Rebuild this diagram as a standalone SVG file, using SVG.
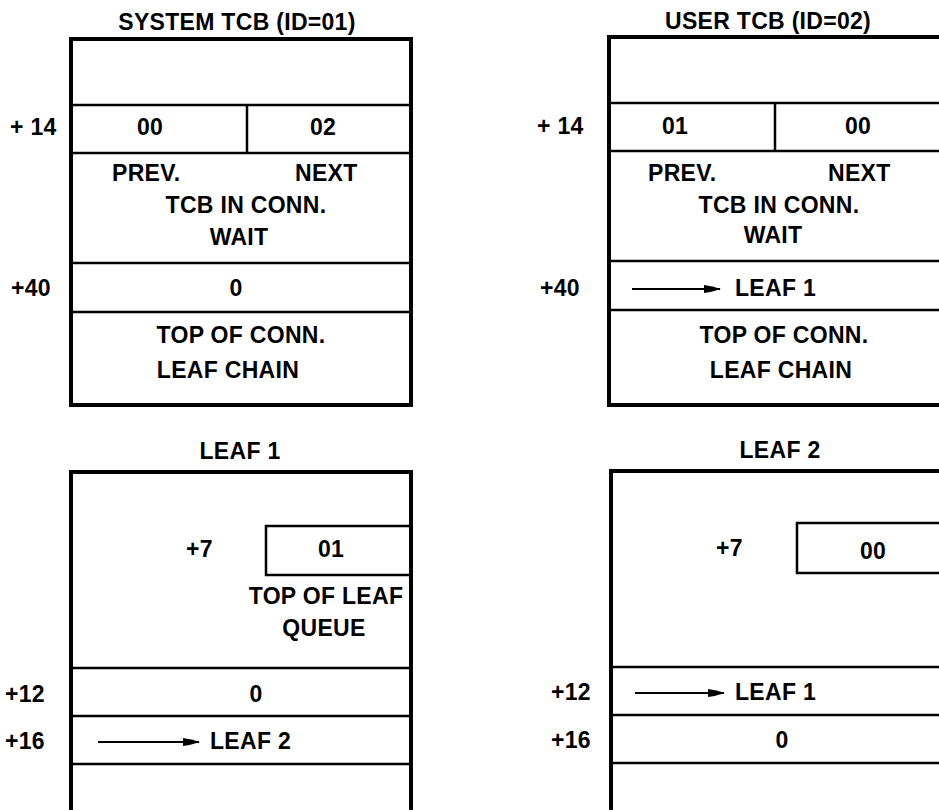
<svg xmlns="http://www.w3.org/2000/svg" width="939" height="810" viewBox="0 0 939 810">
<style>
.box{fill:none;stroke:#000;stroke-width:4}
.ln{stroke:#000;stroke-width:2.5;fill:none}
.t{font-family:"Liberation Sans",Arial,sans-serif;font-size:23px;font-weight:bold;letter-spacing:0.3px;fill:#000}
.m{text-anchor:middle}
.arr{stroke:#000;stroke-width:2;fill:none;marker-end:url(#ah)}
</style>
<defs>
<marker id="ah" viewBox="0 0 17 9" refX="16" refY="4.5" markerWidth="17" markerHeight="9" markerUnits="userSpaceOnUse" orient="auto">
<path d="M0,0.5 Q8,1.5 17,4.5 Q8,7.5 0,8.5 Z" fill="#000"/>
</marker>
</defs>
<rect width="939" height="810" fill="#fff"/>

<g id="system-tcb">
<text class="t m" x="237" y="30">SYSTEM TCB (ID=01)</text>
<rect class="box" x="71" y="39" width="340" height="366"/>
<line class="ln" x1="71" y1="105" x2="411" y2="105"/>
<line class="ln" x1="71" y1="153" x2="411" y2="153"/>
<line class="ln" x1="247" y1="105" x2="247" y2="153"/>
<line class="ln" x1="71" y1="263" x2="411" y2="263"/>
<line class="ln" x1="71" y1="312" x2="411" y2="312"/>
<text class="t" x="10" y="135">+ 14</text>
<text class="t m" x="150" y="135">00</text>
<text class="t m" x="323" y="135">02</text>
<text class="t" x="112" y="181">PREV.</text>
<text class="t" x="295" y="181">NEXT</text>
<text class="t m" x="246" y="213">TCB IN CONN.</text>
<text class="t m" x="239" y="245">WAIT</text>
<text class="t" x="11" y="296">+40</text>
<text class="t m" x="236" y="296">0</text>
<text class="t m" x="241" y="343">TOP OF CONN.</text>
<text class="t m" x="228" y="378">LEAF CHAIN</text>
</g>

<g id="user-tcb">
<text class="t" x="665" y="29">USER TCB (ID=02)</text>
<rect class="box" x="609" y="37" width="340" height="368"/>
<line class="ln" x1="609" y1="103" x2="945" y2="103"/>
<line class="ln" x1="609" y1="151" x2="945" y2="151"/>
<line class="ln" x1="775" y1="103" x2="775" y2="151"/>
<line class="ln" x1="609" y1="261" x2="945" y2="261"/>
<line class="ln" x1="609" y1="310" x2="945" y2="310"/>
<text class="t" x="537" y="134">+ 14</text>
<text class="t m" x="675" y="134">01</text>
<text class="t m" x="858" y="134">00</text>
<text class="t" x="648" y="181">PREV.</text>
<text class="t" x="828" y="181">NEXT</text>
<text class="t m" x="779" y="213">TCB IN CONN.</text>
<text class="t m" x="773" y="243">WAIT</text>
<text class="t" x="540" y="296">+40</text>
<text class="t" x="735" y="296">LEAF 1</text>
<text class="t m" x="784" y="343">TOP OF CONN.</text>
<text class="t m" x="781" y="378">LEAF CHAIN</text>
</g>

<g id="leaf1">
<text class="t m" x="240" y="459">LEAF 1</text>
<rect class="box" x="71" y="472" width="340" height="345"/>
<path class="ln" d="M411,526 H266 V575 H411"/>
<line class="ln" x1="71" y1="668" x2="411" y2="668"/>
<line class="ln" x1="71" y1="716" x2="411" y2="716"/>
<line class="ln" x1="71" y1="764" x2="411" y2="764"/>
<text class="t" x="186" y="557">+7</text>
<text class="t m" x="331" y="557">01</text>
<text class="t m" x="326" y="604">TOP OF LEAF</text>
<text class="t m" x="324" y="636">QUEUE</text>
<text class="t" x="5" y="702">+12</text>
<text class="t m" x="256" y="702">0</text>
<text class="t" x="5" y="749">+16</text>
<text class="t" x="210" y="749">LEAF 2</text>
</g>

<g id="leaf2">
<text class="t m" x="780" y="458">LEAF 2</text>
<rect class="box" x="611" y="471" width="340" height="346"/>
<path class="ln" d="M945,523 H797 V573 H945"/>
<line class="ln" x1="611" y1="667" x2="945" y2="667"/>
<line class="ln" x1="611" y1="715" x2="945" y2="715"/>
<line class="ln" x1="611" y1="763" x2="945" y2="763"/>
<text class="t" x="716" y="556">+7</text>
<text class="t m" x="873" y="559">00</text>
<text class="t" x="551" y="700">+12</text>
<text class="t" x="735" y="700">LEAF 1</text>
<text class="t" x="551" y="748">+16</text>
<text class="t m" x="782" y="748">0</text>
</g>

<g id="connectors">
<line class="arr" x1="632" y1="289" x2="720" y2="289"/>
<line class="arr" x1="98" y1="742" x2="199" y2="742"/>
<line class="arr" x1="635" y1="693" x2="724" y2="693"/>
</g>
</svg>
